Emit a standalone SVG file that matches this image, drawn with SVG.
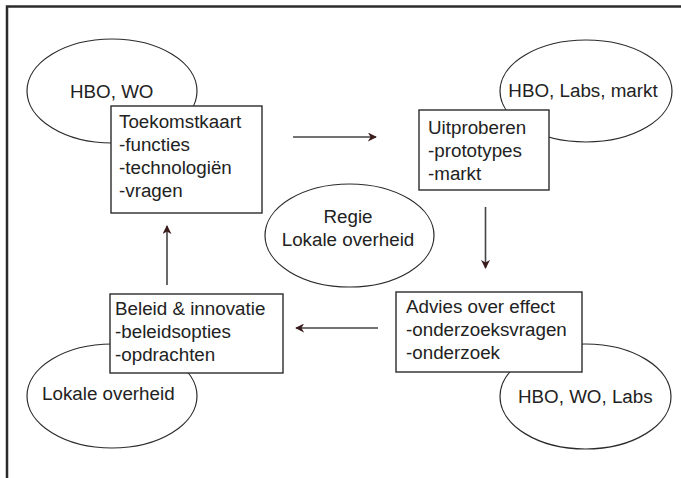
<svg xmlns="http://www.w3.org/2000/svg" width="681" height="478" viewBox="0 0 681 478">
  <style>
    .bg { fill: #ffffff; }
    .frame { fill: none; stroke: #2b2b2b; stroke-width: 2.5; }
    .ell { fill: #ffffff; stroke: #2b2b2b; stroke-width: 1.2; }
    .box { fill: #ffffff; stroke: #2b2b2b; stroke-width: 1.4; }
    .t { font-family: "Liberation Sans", Arial, sans-serif; font-size: 18.8px; fill: #222222; }
    .mid { text-anchor: middle; }
    .link { fill: none; stroke: #444444; stroke-width: 1.6; marker-end: url(#head); }
  </style>
  <defs>
    <marker id="head" viewBox="0 0 10 10" refX="9" refY="5" markerWidth="9" markerHeight="9" markerUnits="userSpaceOnUse" orient="auto">
      <path d="M0,0 L10,5 L0,10 L3,5 Z" fill="#3a1c1c"/>
    </marker>
  </defs>

  <rect class="bg" x="0" y="0" width="681" height="478"/>
  <path class="frame" d="M7,478 V6.5 H681"/>

  <!-- upper left: partners + future map -->
  <g id="ell-hbo-wo">
    <ellipse class="ell" cx="112" cy="91" rx="85" ry="52"/>
    <text class="t" x="70" y="98">HBO, WO</text>
  </g>
  <g id="box-toekomstkaart">
    <rect class="box" x="111" y="106" width="151" height="107"/>
    <text class="t" x="119" y="128">Toekomstkaart</text>
    <text class="t" x="119" y="151">-functies</text>
    <text class="t" x="119" y="174">-technologiën</text>
    <text class="t" x="119" y="197">-vragen</text>
  </g>

  <!-- upper right: partners + trials -->
  <g id="ell-hbo-labs-markt">
    <ellipse class="ell" cx="586" cy="91" rx="86" ry="51"/>
    <text class="t mid" x="583" y="97">HBO, Labs, markt</text>
  </g>
  <g id="box-uitproberen">
    <rect class="box" x="419" y="110" width="130" height="80"/>
    <text class="t" x="428" y="134">Uitproberen</text>
    <text class="t" x="428" y="157">-prototypes</text>
    <text class="t" x="428" y="180">-markt</text>
  </g>

  <!-- centre -->
  <g id="ell-regie">
    <ellipse class="ell" cx="349.5" cy="235.5" rx="84.5" ry="51.5"/>
    <text class="t mid" x="348" y="223">Regie</text>
    <text class="t mid" x="348" y="246">Lokale overheid</text>
  </g>

  <!-- lower left: local government + policy -->
  <g id="ell-lokale-overheid">
    <ellipse class="ell" cx="112" cy="396" rx="85" ry="52"/>
    <text class="t" x="42" y="400">Lokale overheid</text>
  </g>
  <g id="box-beleid">
    <rect class="box" x="110" y="294" width="173" height="79"/>
    <text class="t" x="115" y="315">Beleid &amp; innovatie</text>
    <text class="t" x="115" y="338">-beleidsopties</text>
    <text class="t" x="115" y="361">-opdrachten</text>
  </g>

  <!-- lower right: research partners + advice -->
  <g id="ell-hbo-wo-labs">
    <ellipse class="ell" cx="585.5" cy="396.5" rx="85.5" ry="52.5"/>
    <text class="t" x="518" y="403">HBO, WO, Labs</text>
  </g>
  <g id="box-advies">
    <rect class="box" x="396" y="292" width="186" height="80"/>
    <text class="t" x="406" y="313">Advies over effect</text>
    <text class="t" x="406" y="336">-onderzoeksvragen</text>
    <text class="t" x="406" y="359">-onderzoek</text>
  </g>

  <!-- cycle connectors -->
  <g id="connectors">
    <line class="link" x1="293" y1="137" x2="376" y2="137"/>
    <line class="link" x1="485.5" y1="207" x2="485.5" y2="268"/>
    <line class="link" x1="378" y1="328" x2="296" y2="328"/>
    <line class="link" x1="167" y1="285" x2="167" y2="226"/>
  </g>
</svg>
